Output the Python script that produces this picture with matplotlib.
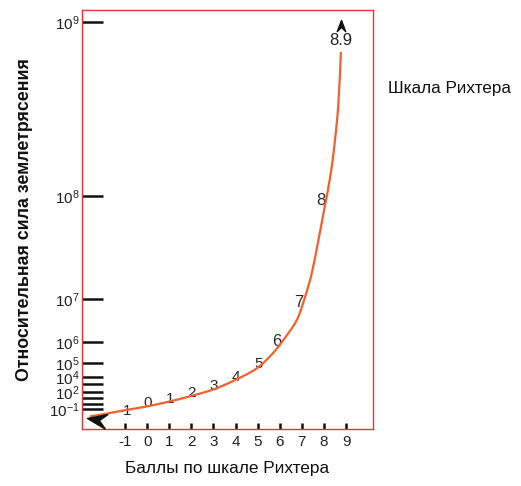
import matplotlib
matplotlib.use("Agg")

import matplotlib.pyplot as plt
import numpy as np
from matplotlib.path import Path
from matplotlib.patches import PathPatch
from matplotlib.markers import MarkerStyle
from matplotlib.transforms import Affine2D

plt.rcParams['font.family'] = ['Liberation Sans', 'DejaVu Sans']
plt.rcParams['mathtext.fontset'] = 'custom'
plt.rcParams['mathtext.rm'] = 'Liberation Sans'
plt.rcParams['mathtext.it'] = 'Liberation Sans'

# curve: magnitude vs. relative height (0..100 of the box)
magnitude = [-2.6, -1.9, -1.0, -0.1, 0.96, 1.86, 2.92, 3.83, 4.73, 5.11, 5.48,
             5.79, 6.16, 6.77, 7.15, 7.45, 7.75, 8.02, 8.31, 8.5, 8.65, 8.77]
height = [3.0, 3.6, 4.5, 5.3, 6.5, 7.7, 9.3, 11.3, 13.7, 15.1, 16.9,
          18.7, 21.2, 26.0, 31.6, 37.2, 45.1, 52.6, 61.0, 69.0, 77.4, 90.0]

# labels written along the curve
curve_labels = ['-1', '0', '1', '2', '3', '4', '5', '6', '7', '8']
curve_label_mag = [-1, 0, 1, 2, 3, 4, 5, 6, 7, 8]
end_label = '8.9'

# y axis: powers of ten at hand-drawn (non-uniform) positions
ytick_pos = [4.8, 6.0, 7.4, 8.8, 10.7, 12.4, 15.8, 20.8, 31.0, 55.6, 97.1]
ytick_exp = [-1, 0, 1, 2, 3, 4, 5, 6, 7, 8, 9]
ytick_shown = [-1, 2, 4, 5, 6, 7, 8, 9]

xticks = [-1, 0, 1, 2, 3, 4, 5, 6, 7, 8, 9]


def smooth_path(xs, ys):
    # Catmull-Rom through the points, drawn as cubic Bezier segments
    p = np.column_stack([xs, ys])
    verts = [p[0]]
    codes = [Path.MOVETO]
    for i in range(len(p) - 1):
        p0 = p[i - 1] if i > 0 else p[i]
        p3 = p[i + 2] if i + 2 < len(p) else p[i + 1]
        c1 = p[i] + (p[i + 1] - p0) / 6.0
        c2 = p[i + 1] - (p3 - p[i]) / 6.0
        verts += [c1, c2, p[i + 1]]
        codes += [Path.CURVE4] * 3
    return Path(verts, codes)


fig = plt.figure(figsize=(5.21, 4.86), dpi=100)
ax = fig.add_axes([0.1574, 0.1173, 0.5585, 0.862])
ax.set_xlim(-2.95, 10.22)
ax.set_ylim(0, 100)

red = '#e0343c'
for s in ax.spines.values():
    s.set_color(red)
    s.set_linewidth(1.0)

ax.add_patch(PathPatch(smooth_path(magnitude, height), facecolor='none',
                       edgecolor='#f2602e', lw=1.6, zorder=3, capstyle='butt'))

# arrow heads (concave "stealth" shape, tip at origin, pointing left)
head = Path([(0, 0), (1, 0.38), (0.62, 0), (1, -0.38), (0, 0)],
            [Path.MOVETO, Path.LINETO, Path.LINETO, Path.LINETO, Path.CLOSEPOLY])
left_head = MarkerStyle(head, transform=Affine2D().rotate_deg(-10))
ax.plot(magnitude[0] - 0.13, height[0] - 0.45, marker=left_head, ms=28,
        color='#111111', zorder=4, clip_on=False)

for lab, m in zip(curve_labels, curve_label_mag):
    yv = np.interp(m, magnitude, height)
    fs = 11 if m < 6 else 12
    dx = 0.02 if m < 6 else -0.12
    dy = 0.7
    if m < 0:
        dy = -0.1   # minus sign hidden under the curve, as in the original
    elif m >= 8:
        dy = 2.6
    ax.text(m + dx, yv + dy, lab, ha='center', va='center', fontsize=fs,
            color='#2a2a2a', zorder=2)

ax.text(magnitude[-1], height[-1] + 2.8, end_label, ha='center', va='center',
        fontsize=12, color='#222222')
up_head = MarkerStyle(head, transform=Affine2D().rotate_deg(-90))
ax.plot(magnitude[-1], height[-1] + 7.6, marker=up_head, ms=16, color='#111111',
        zorder=4, clip_on=False)

ax.set_xticks(xticks)
ax.set_xticklabels([str(v) for v in xticks])
ax.tick_params(axis='x', direction='in', length=4, width=1.8, color='#111111',
               labelsize=11, pad=4, labelcolor='#222222')

ax.set_yticks(ytick_pos)
ax.set_yticklabels(['$10^{%d}$' % e if e in ytick_shown else '' for e in ytick_exp])
ax.tick_params(axis='y', direction='in', length=15, width=1.8, color='#111111',
               labelsize=11, pad=1.5, labelcolor='#222222')

ax.set_xlabel('Баллы по шкале Рихтера', fontsize=12.4, color='#111111', labelpad=9)
ax.set_ylabel('Относительная сила землетрясения', fontsize=12.8, fontweight='bold',
              color='#111111', labelpad=12)

fig.text(0.745, 0.818, 'Шкала Рихтера', fontsize=12.3, color='#111111',
         ha='left', va='center')

fig.savefig('out.png', dpi=100)
plt.close(fig)
